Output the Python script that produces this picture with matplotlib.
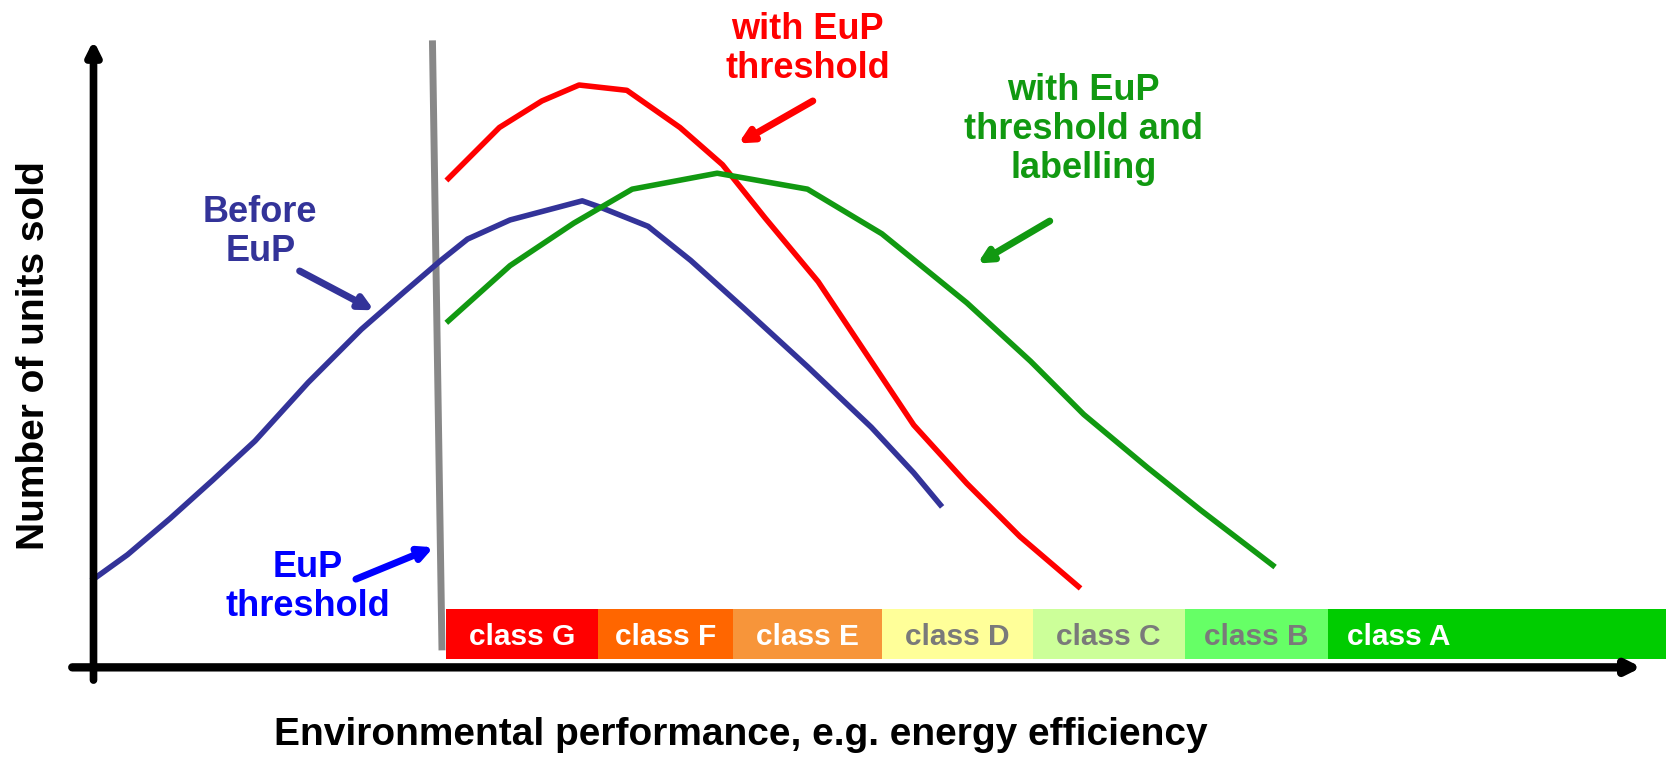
import matplotlib
matplotlib.use("Agg")
import matplotlib.pyplot as plt

plt.rcParams['font.family'] = ['Liberation Sans', 'DejaVu Sans']

# curves: environmental performance (x) vs number of units sold (y), arbitrary units
before_x = [0.8, 4, 8, 12, 16, 21, 26, 30, 33.5, 36, 40, 46.8, 48.5, 53, 57, 62, 68, 74, 78, 80.5]
before_y = [8.3, 10.6, 14, 17.6, 21.3, 26.8, 31.8, 35.3, 38.3, 40.3, 42.1, 43.9, 43.3, 41.5, 38.3,
            33.8, 28.3, 22.6, 18.3, 15.3]

threshold_x = [34.2, 39, 43, 46.5, 51, 56, 60, 64, 69, 74, 78, 83, 88, 93.5]
threshold_y = [46, 50.8, 53.3, 54.8, 54.3, 50.8, 47.3, 42.3, 36.3, 28.8, 22.8, 17.3, 12.3, 7.6]

labelling_x = [34.2, 40, 46, 51.5, 59.5, 68, 75, 83, 89, 94, 100, 105, 111.8]
labelling_y = [32.6, 37.8, 41.8, 45, 46.5, 45, 40.8, 34.3, 28.8, 23.8, 18.8, 14.8, 9.6]

# EuP threshold (slightly tilted line in the original)
eup_x = [32.7, 33.6]
eup_y = [59.0, 1.6]

# energy label classes
classes = ['class G', 'class F', 'class E', 'class D', 'class C', 'class B', 'class A']
class_edges = [34, 48.3, 61, 75, 89.2, 103.5, 117, 149]
class_colors = ['#ff0000', '#ff6600', '#f7953a', '#ffff99', '#ccff99', '#66ff66', '#00cc00']
class_text = ['white', 'white', 'white', '#7a7a7a', '#7a7a7a', '#7a7a7a', 'white']
band_bottom, band_top = 0.8, 5.5

fig = plt.figure(figsize=(16.66, 7.63), dpi=100)
ax = fig.add_axes([0, 0, 1, 1])
ax.set_xlim(-8, 148.8)
ax.set_ylim(-9, 62.8)
ax.axis('off')

# class band
for i, name in enumerate(classes):
    x0, x1 = class_edges[i], class_edges[i + 1]
    ax.add_patch(plt.Rectangle((x0, band_bottom), x1 - x0, band_top - band_bottom,
                               color=class_colors[i], lw=0, zorder=1))
    if name == 'class A':
        ax.text(x0 + 1.8, 2.9, name, ha='left', va='center', fontsize=21.5,
                fontweight='bold', color=class_text[i], zorder=2)
    else:
        ax.text((x0 + x1) / 2, 2.9, name, ha='center', va='center', fontsize=21.5,
                fontweight='bold', color=class_text[i], zorder=2)

# axes with arrows
ax.annotate('', xy=(146.5, 0), xytext=(-1.2, 0),
            arrowprops=dict(arrowstyle='-|>,head_length=0.8,head_width=0.4',
                            color='black', lw=6, shrinkA=0, shrinkB=0), zorder=5)
ax.annotate('', xy=(0.8, 59.0), xytext=(0.8, -1.2),
            arrowprops=dict(arrowstyle='-|>,head_length=0.8,head_width=0.4',
                            color='black', lw=5.5, shrinkA=0, shrinkB=0), zorder=5)

# threshold line
ax.plot(eup_x, eup_y, color='#888888', lw=5, zorder=3, solid_capstyle='butt')

# curves
ax.plot(before_x, before_y, color='#333399', lw=4, zorder=4)
ax.plot(threshold_x, threshold_y, color='#ff0000', lw=4, zorder=4)
ax.plot(labelling_x, labelling_y, color='#119911', lw=4, zorder=4)

# annotations
arrow = dict(arrowstyle='-|>,head_length=0.8,head_width=0.4', lw=5, shrinkA=0, shrinkB=0)
ax.text(16.5, 41, 'Before\nEuP', ha='center', va='center', fontsize=26, fontweight='bold',
        color='#333399', linespacing=1.15)
ax.annotate('', xy=(27.2, 33.6), xytext=(20.2, 37.3), arrowprops=dict(arrow, color='#333399'))

ax.text(21, 7.6, 'EuP\nthreshold', ha='center', va='center', fontsize=26, fontweight='bold',
        color='#0000ff', linespacing=1.15)
ax.annotate('', xy=(32.8, 11.3), xytext=(25.5, 8.3), arrowprops=dict(arrow, color='#0000ff'))

ax.text(68, 58.2, 'with EuP\nthreshold', ha='center', va='center', fontsize=26,
        fontweight='bold', color='#ff0000', linespacing=1.15)
ax.annotate('', xy=(61.5, 49.3), xytext=(68.5, 53.3), arrowprops=dict(arrow, color='#ff0000'))

ax.text(94, 50.6, 'with EuP\nthreshold and\nlabelling', ha='center', va='center', fontsize=26,
        fontweight='bold', color='#119911', linespacing=1.15)
ax.annotate('', xy=(84, 38), xytext=(90.8, 42), arrowprops=dict(arrow, color='#119911'))

# axis titles
ax.text(-4.8, 29.3, 'Number of units sold', rotation=90, ha='center', va='center',
        fontsize=28, fontweight='bold')
ax.text(61.7, -6.4, 'Environmental performance, e.g. energy efficiency', ha='center',
        va='center', fontsize=28, fontweight='bold')

fig.savefig('out.png', dpi=100)
